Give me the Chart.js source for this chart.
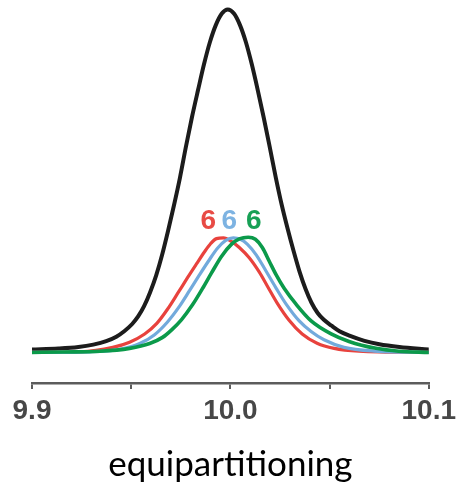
<!DOCTYPE html>
<html>
<head>
<meta charset="utf-8">
<title>equipartitioning</title>
<script src="https://cdn.jsdelivr.net/npm/chart.js@4.4.1/dist/chart.umd.min.js"></script>
<style>
  html, body { margin: 0; padding: 0; background: #ffffff; }
  canvas { display: block; }
</style>
</head>
<body>
<canvas id="chart" width="461" height="482"></canvas>
<script>
// m/z positions and relative intensities (black peak = 100)
const totalX = [9.9, 9.9133, 9.9234, 9.9309, 9.9374, 9.9425, 9.9465, 9.9505, 9.9535, 9.9565,
  9.9595, 9.9626, 9.9656, 9.9686, 9.9716, 9.9746, 9.9776, 9.9806, 9.9837, 9.9867,
  9.9897, 9.9927, 9.9957, 9.9987, 10.0018, 10.0048, 10.0078, 10.0108, 10.0138, 10.0168,
  10.0198, 10.0229, 10.0259, 10.0289, 10.0319, 10.0349, 10.0379, 10.0409, 10.0440, 10.0470,
  10.0510, 10.0550, 10.0600, 10.0676, 10.0751, 10.0852, 10.1];
const totalY = [0.86, 1.15, 1.6, 2.3, 3.3, 4.6, 6.2, 8.3, 10.5, 13.5,
  17.5, 22.5, 28.5, 35.5, 43, 51, 60, 68.5, 76.5, 84,
  90.5, 95.5, 98.8, 100, 98.8, 95.5, 90.5, 84, 76.5, 68.5,
  60, 51, 43, 36, 29.5, 23.5, 18.5, 14.5, 11.5, 9.6,
  7.8, 6.2, 4.9, 3.4, 2.4, 1.6, 0.86];

const redX = [9.9, 9.9241, 9.9407, 9.9492, 9.9568, 9.9628, 9.9683, 9.9734, 9.9784, 9.9829,
  9.9869, 9.9900, 9.9930, 9.9965, 10.0005, 10.0045, 10.0095, 10.0146, 10.0186, 10.0236,
  10.0296, 10.0362, 10.0437, 10.0523, 10.0648, 10.1];
const redY = [0, 0.2, 1.5, 3.0, 5.4, 8.4, 12.6, 17.2, 21.8, 25.8,
  29.3, 31.7, 33.2, 33.4, 32.4, 30.6, 27.6, 23.4, 19.4, 14.4,
  9.4, 5.4, 2.7, 1.2, 0.4, 0];

const blueX = [9.9, 9.9291, 9.9442, 9.9543, 9.9618, 9.9683, 9.9744, 9.9794, 9.9844, 9.9889,
  9.9935, 9.9975, 10.0015, 10.0050, 10.0085, 10.0131, 10.0181, 10.0231, 10.0281, 10.0347,
  10.0407, 10.0472, 10.0573, 10.0724, 10.1];
const blueY = [0, 0.2, 0.9, 2.6, 5.2, 8.9, 13.5, 18.0, 22.6, 26.6,
  30.4, 32.6, 33.4, 33.0, 31.6, 28.4, 23.6, 18.7, 14.1, 9.2,
  6.1, 3.7, 1.5, 0.4, 0];

const greenX = [9.9, 9.9156, 9.9342, 9.9492, 9.9593, 9.9658, 9.9704, 9.9754, 9.9809, 9.9859,
  9.9905, 9.9955, 10.0005, 10.0045, 10.0090, 10.0126, 10.0161, 10.0196, 10.0231, 10.0271,
  10.0332, 10.0407, 10.0508, 10.0598, 10.0734, 10.0849, 10.1];
const greenY = [0, 0.14, 0.35, 1.2, 2.6, 4.4, 6.6, 9.6, 13.9, 18.6,
  23.2, 28.0, 31.5, 33.1, 33.6, 33.0, 30.6, 26.6, 22.6, 18.7,
  14.0, 9.2, 5.4, 3.2, 1.2, 0.35, 0];

// x-axis ticks every 0.05, labelled every 0.1
const tickValues = [9.9, 9.95, 10.0, 10.05, 10.1];
const tickLabels = ['9.9', '', '10.0', '', '10.1'];

// charge-state labels above the component peaks
const peakLabels = ['6', '6', '6'];

const COLORS = {
  total: '#1c1c1c',
  red: '#e8423d',
  blue: '#72aadc',
  green: '#0b9a4a'
};

const toPoints = (xs, ys) => xs.map((x, i) => ({ x: x, y: ys[i] }));

const lineStyle = (color, width) => ({
  borderColor: color,
  backgroundColor: color,
  borderWidth: width,
  pointRadius: 0,
  pointHoverRadius: 0,
  fill: false,
  cubicInterpolationMode: 'monotone',
  borderCapStyle: 'round',
  borderJoinStyle: 'round'
});

const peakLabelPlugin = {
  id: 'peakLabels',
  afterDatasetsDraw(chart, args, opts) {
    const { ctx, scales } = chart;
    ctx.save();
    ctx.font = opts.font;
    ctx.textAlign = 'center';
    ctx.textBaseline = 'middle';
    opts.items.forEach((item, i) => {
      ctx.fillStyle = item.color;
      ctx.fillText(peakLabels[i], scales.x.getPixelForValue(item.x), scales.y.getPixelForValue(item.y));
    });
    ctx.restore();
  }
};

new Chart(document.getElementById('chart'), {
  type: 'line',
  data: {
    datasets: [
      Object.assign({ label: 'green', data: toPoints(greenX, greenY) }, lineStyle(COLORS.green, 3.6)),
      Object.assign({ label: 'blue', data: toPoints(blueX, blueY) }, lineStyle(COLORS.blue, 3.2)),
      Object.assign({ label: 'red', data: toPoints(redX, redY) }, lineStyle(COLORS.red, 3.2)),
      Object.assign({ label: 'total', data: toPoints(totalX, totalY) }, lineStyle(COLORS.total, 4))
    ]
  },
  options: {
    responsive: false,
    animation: false,
    events: [],
    layout: { padding: { left: 32, right: 31, top: 5, bottom: 0 } },
    plugins: {
      legend: { display: false },
      tooltip: { enabled: false },
      peakLabels: {
        font: 'bold 28px "Liberation Sans", Arial, sans-serif',
        items: [
          { x: 9.9889, y: 38.2, color: '#e84b45' },
          { x: 9.9995, y: 38.2, color: '#7db3e2' },
          { x: 10.0118, y: 38.2, color: '#17a055' }
        ]
      }
    },
    scales: {
      x: {
        type: 'linear',
        min: 9.9,
        max: 10.1,
        afterBuildTicks(scale) {
          scale.ticks = tickValues.map(v => ({ value: v }));
        },
        ticks: {
          autoSkip: false,
          maxRotation: 0,
          padding: 5,
          color: '#474747',
          font: { family: '"Liberation Sans", Arial, sans-serif', size: 28, weight: 'bold' },
          callback: (v, i) => tickLabels[i]
        },
        grid: {
          drawOnChartArea: false,
          drawTicks: true,
          tickLength: 6,
          color: '#5c5c5c',
          lineWidth: 2
        },
        border: { display: true, color: '#5c5c5c', width: 2.5 },
        title: {
          display: true,
          text: 'equipartitioning',
          color: '#000000',
          font: { family: 'Lato, "Open Sans", sans-serif', size: 35, lineHeight: 1 },
          padding: { top: 14.4, bottom: 0 }
        }
      },
      y: {
        type: 'linear',
        display: false,
        min: -8.9,
        max: 101.3
      }
    }
  },
  plugins: [peakLabelPlugin]
});
</script>
</body>
</html>
